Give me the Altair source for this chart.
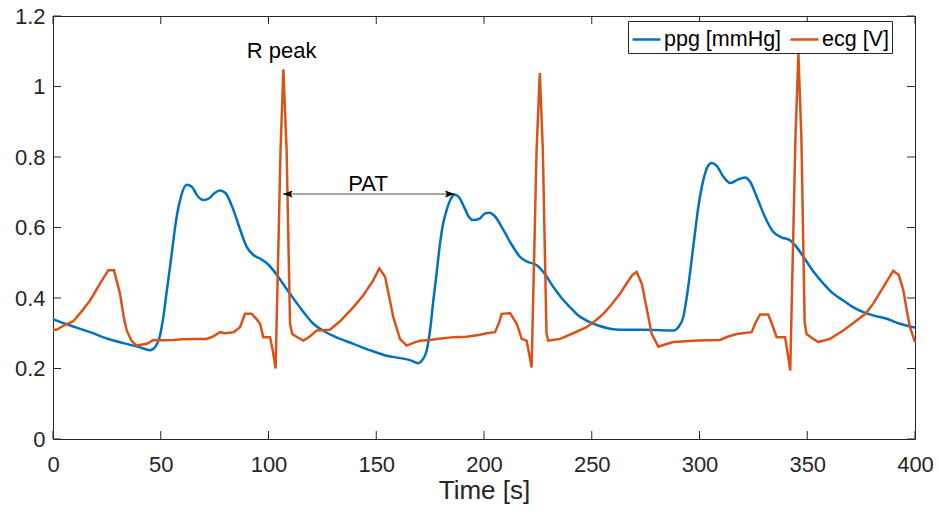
import altair as alt
import pandas as pd

# ---- data ----
ppg_t = [0, 1.7, 10, 17.2, 25, 32.6, 40.4, 45, 47.5, 49.5, 51.2, 52.8, 54.3, 56, 57.4, 59.5, 62,
         64.5, 67, 69.8, 72.5, 75, 77.5, 80, 83.7, 86.5, 89.9, 93, 96, 99, 102.2, 106, 110, 115,
         120.8, 126, 133.2, 139.4, 147, 154.8, 162.6, 166, 169.5, 171.5, 173.4, 175, 176.5, 178,
         179.6, 181, 182.7, 184.5, 186.5, 188.5, 191, 193, 195, 198, 200.5, 202.8, 205, 208.2,
         212, 216.7, 220, 224.5, 228, 232.2, 236, 239.9, 243.5, 247.6, 253, 258.5, 263.1, 273.9,
         280, 287.9, 290.5, 292.5, 294.5, 297.1, 299.5, 301.8, 303.7, 305.6, 308, 311, 314.2,
         317.5, 321.1, 323.5, 326.5, 330, 334.2, 338, 342, 345, 348.2, 352.5, 357.5, 362, 366.7,
         371, 376, 381, 386.9, 393, 400]
ppg_v = [0.34, 0.336, 0.318, 0.303, 0.285, 0.272, 0.26, 0.252, 0.262, 0.29, 0.346, 0.42, 0.488,
         0.57, 0.631, 0.69, 0.721, 0.715, 0.69, 0.678, 0.683, 0.698, 0.705, 0.698, 0.65, 0.6,
         0.545, 0.522, 0.512, 0.5, 0.479, 0.447, 0.412, 0.37, 0.327, 0.305, 0.284, 0.27, 0.252,
         0.236, 0.228, 0.223, 0.215, 0.225, 0.251, 0.31, 0.393, 0.47, 0.555, 0.61, 0.65, 0.68,
         0.693, 0.685, 0.655, 0.63, 0.621, 0.625, 0.64, 0.642, 0.632, 0.602, 0.56, 0.517, 0.503,
         0.493, 0.47, 0.431, 0.4, 0.374, 0.352, 0.336, 0.322, 0.313, 0.31, 0.31, 0.309, 0.308,
         0.32, 0.346, 0.42, 0.545, 0.66, 0.735, 0.772, 0.783, 0.775, 0.745, 0.726, 0.735, 0.742,
         0.73, 0.688, 0.635, 0.588, 0.572, 0.564, 0.545, 0.517, 0.478, 0.441, 0.413, 0.393,
         0.375, 0.36, 0.35, 0.341, 0.327, 0.316]

ecg_t = [0, 1.7, 5, 9.4, 13, 17.2, 21.8, 25.7, 28.3, 31.1, 33, 34.2, 36.5, 38.8, 43.5, 45, 46.5,
         50, 55.8, 60, 65, 71.3, 74, 77.5, 80, 83.7, 86.8, 89.1, 92.2, 94.5, 96.1, 97.6, 100.7,
         102, 103.3, 105.6, 106.9, 108.4, 110, 111, 113, 116.2, 119, 122.4, 128.5, 133.2, 139.4,
         144, 148.6, 151.4, 154.1, 157.9, 161, 164.1, 167, 170.3, 174.9, 180, 185.8, 192, 198.1,
         201.3, 205.1, 207, 208.2, 212.1, 215.2, 217.5, 219.8, 221, 222.1, 224.4, 225.9, 227.3,
         229, 229.8, 235.3, 241.4, 247.6, 251.5, 255.4, 259, 263.1, 266.2, 268.8, 270.8, 273.2,
         275.5, 277.8, 280.9, 284, 287.9, 297.1, 303, 309.5, 313, 317.3, 324.2, 326, 328.1,
         331.9, 334, 335.8, 339.7, 341, 342.1, 344.5, 345.9, 347.3, 348.8, 349.7, 352.5, 355.1,
         360.6, 366.7, 372.9, 377, 380.6, 385.3, 389.9, 392.5, 394.6, 396.3, 397.7, 400]
ecg_v = [0.31, 0.31, 0.322, 0.334, 0.36, 0.393, 0.441, 0.479, 0.479, 0.412, 0.34, 0.308, 0.278,
         0.265, 0.27, 0.275, 0.281, 0.28, 0.281, 0.283, 0.284, 0.284, 0.29, 0.303, 0.3, 0.303,
         0.317, 0.355, 0.355, 0.34, 0.327, 0.289, 0.289, 0.25, 0.2, 0.82, 1.049, 0.82, 0.327,
         0.298, 0.29, 0.279, 0.29, 0.308, 0.31, 0.334, 0.374, 0.408, 0.45, 0.484, 0.46, 0.346,
         0.284, 0.265, 0.272, 0.279, 0.281, 0.285, 0.289, 0.29, 0.296, 0.3, 0.303, 0.33, 0.355,
         0.357, 0.327, 0.284, 0.279, 0.24, 0.203, 0.82, 1.038, 0.82, 0.3, 0.279, 0.284, 0.3,
         0.317, 0.335, 0.355, 0.38, 0.412, 0.441, 0.465, 0.474, 0.441, 0.37, 0.298, 0.262,
         0.268, 0.275, 0.279, 0.28, 0.281, 0.29, 0.298, 0.303, 0.33, 0.353, 0.353, 0.32, 0.289,
         0.289, 0.24, 0.194, 0.85, 1.092, 0.85, 0.33, 0.298, 0.285, 0.275, 0.284, 0.308, 0.336,
         0.355, 0.384, 0.431, 0.477, 0.465, 0.422, 0.36, 0.317, 0.275]

series_names = ["ppg [mmHg]", "ecg [V]"]
series_colors = ["#0072BD", "#D95319"]

x_ticks = [0, 50, 100, 150, 200, 250, 300, 350, 400]
y_ticks = [0, 0.2, 0.4, 0.6, 0.8, 1.0, 1.2]

ann_text = ["R peak", "PAT"]
ann_t = [106.1, 146.2]
ann_v = [1.100, 0.724]

arrow_t0 = [106.6]
arrow_t1 = [186.5]
arrow_v = [0.695]

# ---- layout ----
W, H = 862, 423
FONT = "Liberation Sans"
AX = "#262626"

ppg_df = pd.DataFrame({"t": ppg_t, "v": ppg_v, "series": series_names[0]})
ecg_df = pd.DataFrame({"t": ecg_t, "v": ecg_v, "series": series_names[1]})
xt_df = pd.DataFrame({"t": x_ticks})
yt_df = pd.DataFrame({"v": y_ticks})
ann_df = pd.DataFrame({"t": ann_t, "v": ann_v, "label": ann_text})
arr_df = pd.DataFrame({"t": arrow_t0, "t2": arrow_t1, "v": arrow_v})
head_l = pd.DataFrame({"t": arrow_t0, "v": arrow_v})
head_r = pd.DataFrame({"t": arrow_t1, "v": arrow_v})

xscale = alt.Scale(domain=[0, 400], nice=False, zero=False)
yscale = alt.Scale(domain=[0, 1.2], nice=False, zero=False)
xaxis = alt.Axis(values=x_ticks, title="Time [s]", format="d",
                 labelFlush=False, labelOverlap=False)
yaxis = alt.Axis(values=y_ticks, title=None, format="~g",
                 labelFlush=False, labelOverlap=False)

X = lambda: alt.X("t:Q", scale=xscale, axis=xaxis)
Y = lambda: alt.Y("v:Q", scale=yscale, axis=yaxis)

color = alt.Color(
    "series:N",
    scale=alt.Scale(domain=series_names, range=series_colors),
    legend=alt.Legend(
        title=None, orient="none", legendX=575, legendY=5, direction="horizontal",
        symbolType="stroke", symbolSize=784, symbolStrokeWidth=2.5,
        labelFontSize=21.5, labelFont=FONT, labelColor="#000000", labelOffset=2,
        columnPadding=3, padding=3, strokeColor=AX, fillColor="white",
        labelLimit=300,
    ),
)

ppg_line = alt.Chart(ppg_df).mark_line(strokeWidth=2.5, interpolate="monotone").encode(
    x=X(), y=Y(), color=color)
ecg_line = alt.Chart(ecg_df).mark_line(strokeWidth=2.5).encode(x=X(), y=Y(), color=color)

tick_bottom = alt.Chart(xt_df).mark_rule(color=AX, strokeWidth=1).encode(
    x=X(), y=alt.value(H), y2=alt.value(H - 8))
tick_top = alt.Chart(xt_df).mark_rule(color=AX, strokeWidth=1).encode(
    x=X(), y=alt.value(0), y2=alt.value(8))
tick_left = alt.Chart(yt_df).mark_rule(color=AX, strokeWidth=1).encode(
    y=Y(), x=alt.value(0), x2=alt.value(8))
tick_right = alt.Chart(yt_df).mark_rule(color=AX, strokeWidth=1).encode(
    y=Y(), x=alt.value(W), x2=alt.value(W - 8))

ann = alt.Chart(ann_df).mark_text(font=FONT, fontSize=22, color="#000000",
                                  align="center", baseline="middle").encode(
    x=X(), y=Y(), text="label:N")

arrow = alt.Chart(arr_df).mark_rule(color="#4a4a4a", strokeWidth=1).encode(
    x=X(), x2="t2:Q", y=Y())
hl = alt.Chart(head_l).mark_point(shape="M0,0L1,-0.35L0.8,0L1,0.35Z", filled=True,
                                  size=400, color="#000000", opacity=1).encode(x=X(), y=Y())
hr = alt.Chart(head_r).mark_point(shape="M0,0L-1,-0.35L-0.8,0L-1,0.35Z", filled=True,
                                  size=400, color="#000000", opacity=1).encode(x=X(), y=Y())

chart = alt.layer(
    ppg_line, ecg_line, arrow, hl, hr, ann,
    tick_bottom, tick_top, tick_left, tick_right,
).properties(
    width=W, height=H,
    autosize=alt.AutoSizeParams(type="none"),
    padding={"left": 53, "top": 16, "right": 24, "bottom": 75},
    background="white",
).configure_view(
    stroke=AX, strokeWidth=1,
).configure_axis(
    domain=False, ticks=False, tickSize=0, grid=False,
    labelFont=FONT, labelFontSize=22, labelColor=AX,
    titleFont=FONT, titleFontSize=26, titleColor=AX, titleFontWeight="normal",
).configure_axisX(
    labelPadding=15, titlePadding=2,
).configure_axisY(
    labelPadding=8,
)

chart.save("out.html", embed_options={"renderer": "svg", "actions": False})
